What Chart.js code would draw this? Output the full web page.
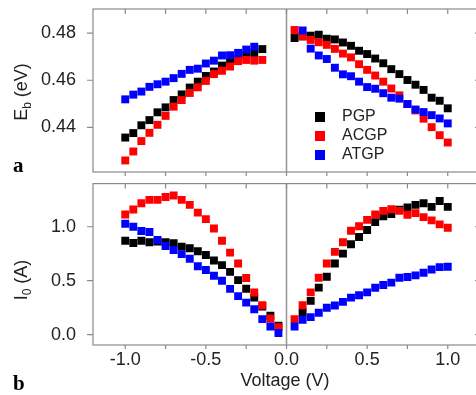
<!DOCTYPE html>
<html>
<head>
<meta charset="utf-8">
<script src="https://cdn.jsdelivr.net/npm/chart.js@4.4.0/dist/chart.umd.min.js"></script>
<style>
html, body { margin: 0; padding: 0; background: #fff; overflow: hidden; }
#wrap { position: relative; width: 476px; height: 395px; overflow: hidden; }
canvas { position: absolute; left: 0; }
#topChart { top: 0; }
#botChart { top: 178px; }
</style>
</head>
<body>
<div id="wrap">
  <canvas id="topChart" width="490" height="178"></canvas>
  <canvas id="botChart" width="490" height="217"></canvas>
</div>
<script>
// voltage points (V)
const vNeg = [-1.0, -0.95, -0.9, -0.85, -0.8, -0.75, -0.7, -0.65, -0.6, -0.55, -0.5, -0.45, -0.4, -0.35, -0.3, -0.25, -0.2, -0.15, -0.1, -0.05];
const vPos = [0.05, 0.1, 0.15, 0.2, 0.25, 0.3, 0.35, 0.4, 0.45, 0.5, 0.55, 0.6, 0.65, 0.7, 0.75, 0.8, 0.85, 0.9, 0.95, 1.0];

const seriesNames = ['PGP', 'ACGP', 'ATGP'];
const seriesColors = ['#000000', '#ff0000', '#0000ff'];

// panel a: Eb (eV)
const ebPgpNeg  = [0.4357, 0.4376, 0.4409, 0.4431, 0.4464, 0.4485, 0.4516, 0.4540, 0.4569, 0.4594, 0.4618, 0.4637, 0.4662, 0.4674, 0.4689, 0.4706, 0.4716, 0.4732, null, null];
const ebAcgpNeg = [0.4260, 0.4298, 0.4342, 0.4377, 0.4411, 0.4449, 0.4488, 0.4516, 0.4546, 0.4570, 0.4597, 0.4626, 0.4640, 0.4658, 0.4681, 0.4686, 0.4683, 0.4686, null, null];
const ebAtgpNeg = [0.4519, 0.4539, 0.4552, 0.4572, 0.4583, 0.4594, 0.4609, 0.4627, 0.4644, 0.4649, 0.4671, 0.4683, 0.4705, 0.4706, 0.4716, 0.4730, 0.4742, null, null, null];
const ebPgpPos  = [0.4779, 0.4786, 0.4789, 0.4793, 0.4776, 0.4773, 0.4760, 0.4746, 0.4725, 0.4711, 0.4692, 0.4672, 0.4647, 0.4626, 0.4601, 0.4581, 0.4559, 0.4526, 0.4513, 0.4481];
const ebAcgpPos = [0.4813, 0.4786, 0.4771, 0.4761, 0.4750, 0.4733, 0.4713, 0.4697, 0.4668, 0.4644, 0.4620, 0.4594, 0.4565, 0.4536, 0.4499, 0.4472, 0.4437, 0.4401, 0.4367, 0.4336];
const ebAtgpPos = [null, 0.4811, 0.4734, 0.4705, 0.4690, 0.4653, 0.4625, 0.4617, 0.4594, 0.4571, 0.4564, 0.4545, 0.4526, 0.4522, 0.4499, 0.4476, 0.4465, 0.4452, 0.4438, 0.4417];

// panel b: I0 (A)
const ioPgpNeg  = [0.871, 0.850, 0.871, 0.856, 0.862, 0.856, 0.847, 0.816, 0.801, 0.773, 0.738, 0.687, 0.644, 0.582, 0.505, 0.426, 0.343, 0.261, 0.175, 0.083];
const ioAcgpNeg = [1.114, 1.160, 1.218, 1.249, 1.249, 1.276, 1.289, 1.249, 1.203, 1.131, 1.071, 0.984, 0.871, 0.760, 0.659, 0.525, 0.390, 0.273, 0.150, 0.070];
const ioAtgpNeg = [1.028, 1.000, 0.960, 0.951, 0.878, 0.822, 0.785, 0.746, 0.703, 0.634, 0.599, 0.546, 0.499, 0.424, 0.357, 0.297, 0.236, 0.144, 0.076, 0.015];
const ioPgpPos  = [null, 0.205, 0.313, 0.436, 0.537, 0.659, 0.751, 0.838, 0.905, 0.970, 1.043, 1.096, 1.117, 1.157, 1.179, 1.203, 1.218, 1.184, 1.239, 1.184];
const ioAcgpPos = [0.144, 0.273, 0.392, 0.528, 0.659, 0.767, 0.856, 0.963, 1.004, 1.064, 1.114, 1.147, 1.163, 1.147, 1.111, 1.126, 1.089, 1.059, 1.022, 0.991];
const ioAtgpPos = [0.076, 0.138, 0.162, 0.203, 0.249, 0.270, 0.304, 0.343, 0.365, 0.392, 0.434, 0.460, 0.482, 0.528, 0.534, 0.549, 0.574, 0.604, 0.626, 0.629];

// tick values
const xTicks = [-1.0, -0.75, -0.5, -0.25, 0, 0.25, 0.5, 0.75, 1.0];
const xLabeled = [-1.0, -0.5, 0, 0.5, 1.0];
const ebTicks = [0.44, 0.46, 0.48];
const ioTicks = [0.0, 0.5, 1.0];

function pts(neg, pos) {
  const out = [];
  vNeg.forEach((v, i) => { if (neg[i] !== null) out.push({x: v, y: neg[i]}); });
  vPos.forEach((v, i) => { if (pos[i] !== null) out.push({x: v, y: pos[i]}); });
  return out;
}

function makeSets(list) {
  return list.map((d, i) => ({
    label: seriesNames[i],
    data: d,
    backgroundColor: seriesColors[i],
    borderColor: seriesColors[i],
    borderWidth: 0,
    pointStyle: 'rect',
    pointRadius: 5.6,
    pointHoverRadius: 5.6,
    showLine: false,
    order: 3 - i
  }));
}

const FONT = 'Liberation Sans, Arial, sans-serif';

function subTitle(ctx, cx, cy, main, sub, rest) {
  ctx.save();
  ctx.translate(cx, cy);
  ctx.rotate(-Math.PI / 2);
  ctx.fillStyle = '#222';
  ctx.textBaseline = 'middle';
  ctx.textAlign = 'left';
  const big = '18px ' + FONT, small = '12px ' + FONT;
  ctx.font = big; const w1 = ctx.measureText(main).width; const w3 = ctx.measureText(rest).width;
  ctx.font = small; const w2 = ctx.measureText(sub).width;
  let x = -(w1 + w2 + w3) / 2;
  ctx.font = big; ctx.fillText(main, x, 0); x += w1;
  ctx.font = small; ctx.fillText(sub, x, 6); x += w2;
  ctx.font = big; ctx.fillText(rest, x, 0);
  ctx.restore();
}

const decor = {
  id: 'decor',
  beforeDatasetsDraw(chart) {
    const {ctx, chartArea: a, scales: {x}} = chart;
    const x0 = x.getPixelForValue(0);
    ctx.save();
    ctx.strokeStyle = '#9a9a9a';
    ctx.lineWidth = 1.6;
    ctx.beginPath(); ctx.moveTo(x0, a.top); ctx.lineTo(x0, a.bottom); ctx.stroke();
    ctx.restore();
  },
  afterDraw(chart, args, o) {
    const {ctx, chartArea: a, scales: {x, y}} = chart;
    ctx.save();
    ctx.strokeStyle = '#8a8a8a';
    ctx.lineWidth = 1.2;
    ctx.strokeRect(a.left, a.top, a.right - a.left, a.bottom - a.top);
    ctx.beginPath();
    xTicks.forEach(v => {
      const px = x.getPixelForValue(v);
      ctx.moveTo(px, a.top); ctx.lineTo(px, a.top + 5);
      ctx.moveTo(px, a.bottom); ctx.lineTo(px, a.bottom + 4);
    });
    o.yTicks.forEach(v => {
      const py = y.getPixelForValue(v);
      ctx.moveTo(a.left - 6, py); ctx.lineTo(a.left, py);
      ctx.moveTo(a.right, py); ctx.lineTo(a.right - 5, py);
    });
    ctx.stroke();

    subTitle(ctx, 22, o.titleY, o.title[0], o.title[1], o.title[2]);

    ctx.fillStyle = '#000';
    ctx.font = 'bold 21px Liberation Serif, Times New Roman, serif';
    ctx.textAlign = 'left';
    ctx.textBaseline = 'alphabetic';
    ctx.fillText(o.letter, 13, o.letterY);

    if (o.xTitle) {
      ctx.fillStyle = '#222';
      ctx.font = '18px ' + FONT;
      ctx.textAlign = 'center';
      ctx.textBaseline = 'middle';
      ctx.fillText(o.xTitle, 285, o.xTitleY);
    }
    if (o.legend) {
      ctx.font = '16px ' + FONT;
      ctx.textAlign = 'left';
      ctx.textBaseline = 'middle';
      seriesNames.forEach((n, i) => {
        const ly = 117 + i * 19;
        ctx.fillStyle = seriesColors[i];
        ctx.fillRect(315, ly - 5, 10, 10);
        ctx.fillStyle = '#222';
        ctx.fillText(n, 342, ly);
      });
    }
    ctx.restore();
  }
};

function baseOptions(yMin, yMax, yTicks, yFmt, xHeight, pad, deco) {
  return {
    responsive: false,
    animation: false,
    events: [],
    layout: { padding: pad },
    plugins: { legend: { display: false }, tooltip: { enabled: false }, decor: deco },
    scales: {
      x: {
        type: 'linear', min: -1.2, max: 1.2,
        display: xHeight > 0,
        grid: { display: false }, border: { display: false },
        afterBuildTicks: s => { s.ticks = xTicks.map(v => ({value: v})); },
        afterFit: s => { s.height = xHeight; s.paddingLeft = 0; s.paddingRight = 0; },
        ticks: {
          padding: -4, color: '#222', font: { family: FONT, size: 18 }, maxRotation: 0, autoSkip: false,
          callback: v => xLabeled.some(t => Math.abs(t - v) < 1e-9) ? v.toFixed(1) : ''
        }
      },
      y: {
        type: 'linear', min: yMin, max: yMax,
        grid: { display: false }, border: { display: false },
        afterBuildTicks: s => { s.ticks = yTicks.map(v => ({value: v})); },
        afterFit: s => { s.width = 93; s.paddingTop = 0; s.paddingBottom = 0; },
        ticks: { padding: 9, color: '#222', font: { family: FONT, size: 18 }, callback: yFmt }
      }
    }
  };
}

new Chart(document.getElementById('topChart'), {
  type: 'scatter',
  data: { datasets: makeSets([pts(ebPgpNeg, ebPgpPos), pts(ebAcgpNeg, ebAcgpPos), pts(ebAtgpNeg, ebAtgpPos)]) },
  options: baseOptions(0.4211, 0.4902, ebTicks, v => v.toFixed(2), 0,
    { top: 9, right: 10, bottom: 6, left: 0 },
    { yTicks: ebTicks, title: ['E', 'b', ' (eV)'], titleY: 92, letter: 'a', letterY: 172, legend: true }),
  plugins: [decor]
});

new Chart(document.getElementById('botChart'), {
  type: 'scatter',
  data: { datasets: makeSets([pts(ioPgpNeg, ioPgpPos), pts(ioAcgpNeg, ioAcgpPos), pts(ioAtgpNeg, ioAtgpPos)]) },
  options: baseOptions(-0.096, 1.40, ioTicks, v => v.toFixed(1), 50,
    { top: 4, right: 10, bottom: 0, left: 0 },
    { yTicks: ioTicks, title: ['I', '0', ' (A)'], titleY: 102, letter: 'b', letterY: 212, xTitle: 'Voltage (V)', xTitleY: 203 }),
  plugins: [decor]
});
</script>
</body>
</html>
